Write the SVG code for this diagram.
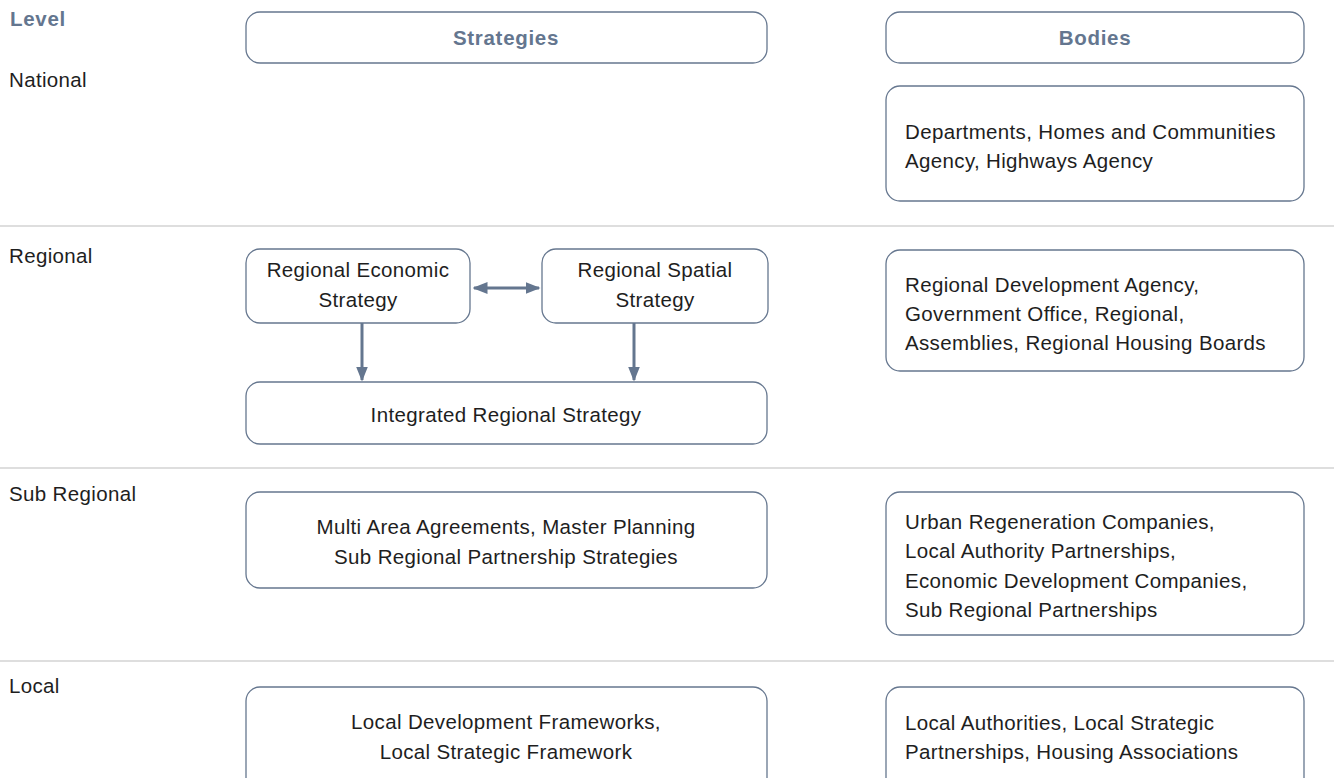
<svg xmlns="http://www.w3.org/2000/svg" width="1334" height="778" viewBox="0 0 1334 778">
  <style>
    .box { fill: #ffffff; stroke: #66778f; stroke-width: 1.3; }
    .t { font-family: "Liberation Sans", Arial, sans-serif; font-size: 20.5px; letter-spacing: 0.35px; fill: #1e1e1e; }
    .c { text-anchor: middle; }
    .h { font-family: "Liberation Sans", Arial, sans-serif; font-size: 20.5px; letter-spacing: 0.7px; font-weight: bold; fill: #64768f; }
    .sep { stroke: #bdbdbd; stroke-width: 1.2; }
    .arrow { stroke: #64768f; stroke-width: 3; fill: none; }
  </style>
  <defs>
    <marker id="head" viewBox="0 0 10 10" refX="9" refY="5" markerWidth="5" markerHeight="5" orient="auto-start-reverse" markerUnits="strokeWidth">
      <path d="M0,1 L10,5 L0,9 z" fill="#64768f"/>
    </marker>
  </defs>

  <rect width="1334" height="778" fill="#ffffff"/>

  <!-- row separators -->
  <g id="separators">
    <line class="sep" x1="0" y1="226" x2="1334" y2="226"/>
    <line class="sep" x1="0" y1="468" x2="1334" y2="468"/>
    <line class="sep" x1="0" y1="661" x2="1334" y2="661"/>
  </g>

  <!-- level labels -->
  <g id="levels">
    <text class="h" x="10" y="26">Level</text>
    <text class="t" x="9" y="87">National</text>
    <text class="t" x="9" y="263">Regional</text>
    <text class="t" x="9" y="501">Sub Regional</text>
    <text class="t" x="9" y="693">Local</text>
  </g>

  <!-- column headers -->
  <g id="hdr-strategies">
    <rect class="box" x="246" y="12" width="521" height="51" rx="14"/>
    <text class="h c" x="506" y="45">Strategies</text>
  </g>
  <g id="hdr-bodies">
    <rect class="box" x="886" y="12" width="418" height="51" rx="14"/>
    <text class="h c" x="1095" y="45">Bodies</text>
  </g>

  <!-- national -->
  <g id="bodies-national">
    <rect class="box" x="886" y="86" width="418" height="115" rx="14"/>
    <text class="t" x="905" y="139">Departments, Homes and Communities</text>
    <text class="t" x="905" y="168">Agency, Highways Agency</text>
  </g>

  <!-- regional -->
  <g id="res">
    <rect class="box" x="246" y="249" width="224" height="74" rx="14"/>
    <text class="t c" x="358" y="277">Regional Economic</text>
    <text class="t c" x="358" y="307">Strategy</text>
  </g>
  <g id="rss">
    <rect class="box" x="542" y="249" width="226" height="74" rx="14"/>
    <text class="t c" x="655" y="277">Regional Spatial</text>
    <text class="t c" x="655" y="307">Strategy</text>
  </g>
  <g id="irs">
    <rect class="box" x="246" y="382" width="521" height="62" rx="14"/>
    <text class="t c" x="506" y="422">Integrated Regional Strategy</text>
  </g>
  <g id="bodies-regional">
    <rect class="box" x="886" y="250" width="418" height="121" rx="14"/>
    <text class="t" x="905" y="292">Regional Development Agency,</text>
    <text class="t" x="905" y="321">Government Office, Regional,</text>
    <text class="t" x="905" y="350">Assemblies, Regional Housing Boards</text>
  </g>

  <!-- sub regional -->
  <g id="subregional-strategies">
    <rect class="box" x="246" y="492" width="521" height="96" rx="14"/>
    <text class="t c" x="506" y="534">Multi Area Agreements, Master Planning</text>
    <text class="t c" x="506" y="564">Sub Regional Partnership Strategies</text>
  </g>
  <g id="bodies-subregional">
    <rect class="box" x="886" y="492" width="418" height="143" rx="14"/>
    <text class="t" x="905" y="529">Urban Regeneration Companies,</text>
    <text class="t" x="905" y="558">Local Authority Partnerships,</text>
    <text class="t" x="905" y="588">Economic Development Companies,</text>
    <text class="t" x="905" y="617">Sub Regional Partnerships</text>
  </g>

  <!-- local -->
  <g id="local-strategies">
    <rect class="box" x="246" y="687" width="521" height="110" rx="14"/>
    <text class="t c" x="506" y="729">Local Development Frameworks,</text>
    <text class="t c" x="506" y="759">Local Strategic Framework</text>
  </g>
  <g id="bodies-local">
    <rect class="box" x="886" y="687" width="418" height="110" rx="14"/>
    <text class="t" x="905" y="730">Local Authorities, Local Strategic</text>
    <text class="t" x="905" y="759">Partnerships, Housing Associations</text>
  </g>

  <!-- connectors -->
  <g id="connectors">
    <line class="arrow" x1="474" y1="288" x2="539" y2="288" marker-start="url(#head)" marker-end="url(#head)"/>
    <line class="arrow" x1="362" y1="323" x2="362" y2="380" marker-end="url(#head)"/>
    <line class="arrow" x1="634" y1="323" x2="634" y2="380" marker-end="url(#head)"/>
  </g>
</svg>
